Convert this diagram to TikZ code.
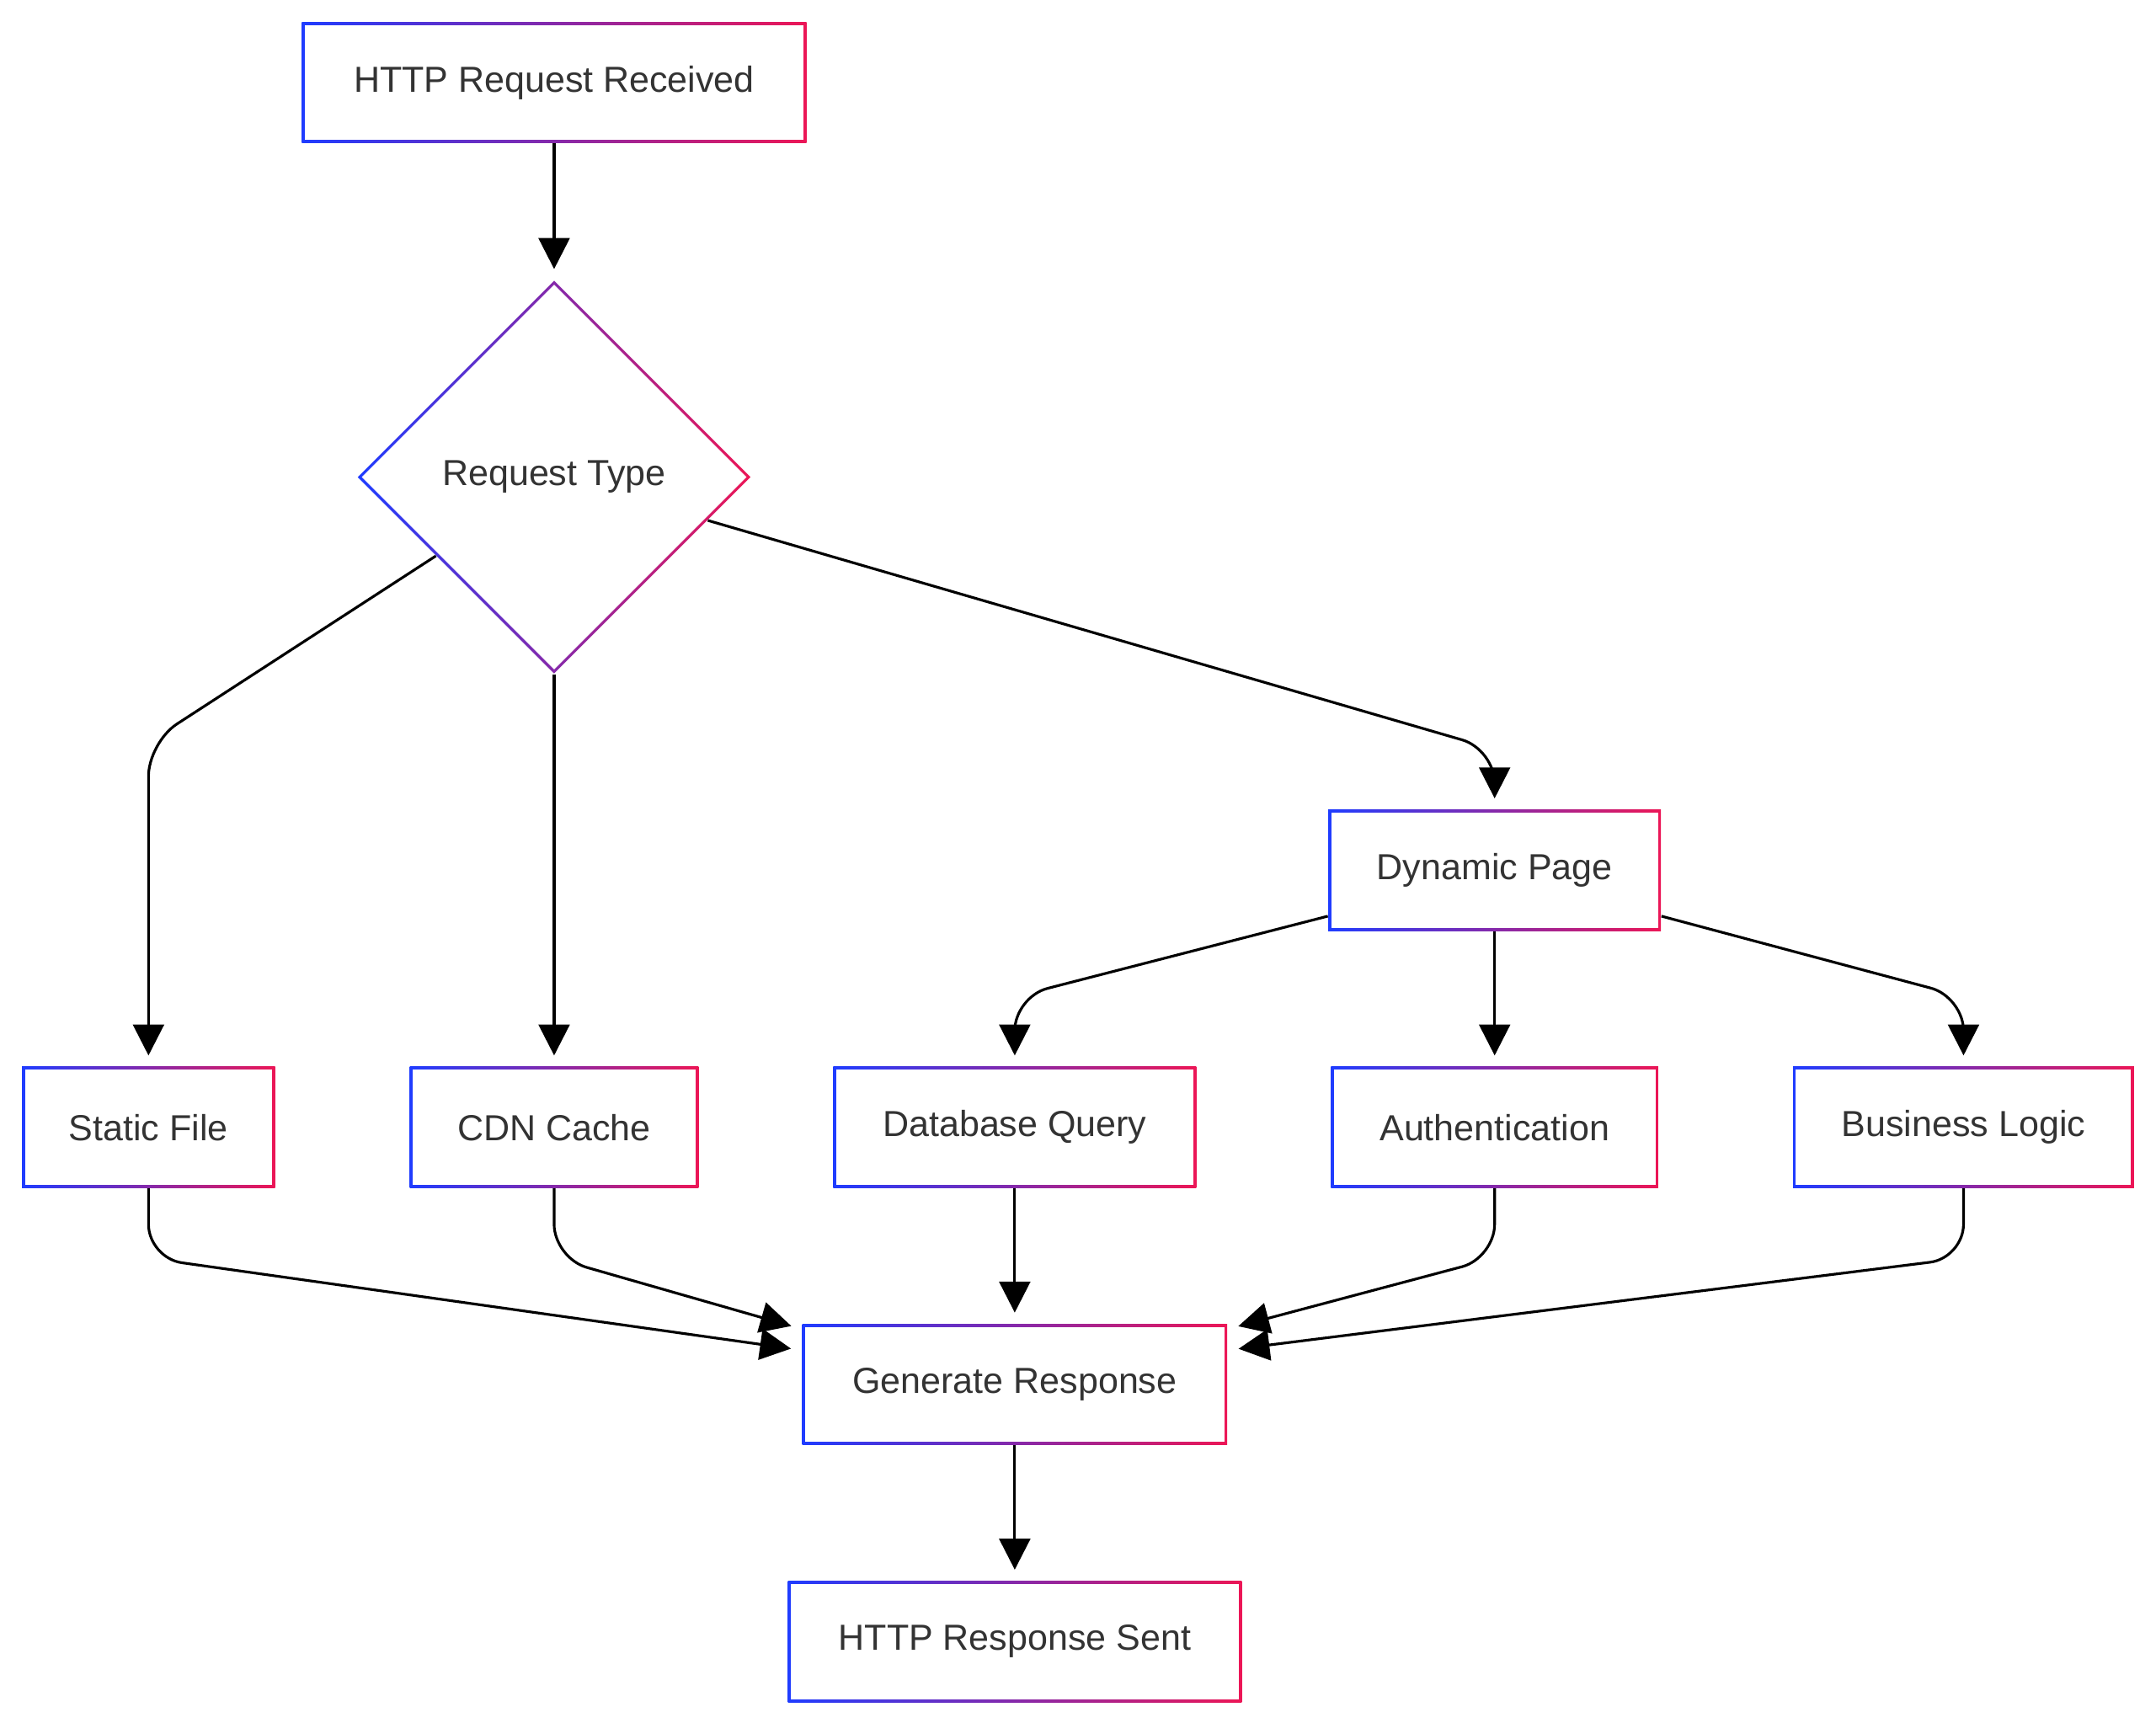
\documentclass[tikz,border=0pt]{standalone}
\usepackage{fontspec}
\setmainfont{Liberation Sans}
\usetikzlibrary{calc,positioning,shapes.geometric,arrows.meta}
\definecolor{edgeblue}{HTML}{1F3CFF}
\definecolor{edgered}{HTML}{EC1656}
\definecolor{txt}{HTML}{333333}
\begin{document}
\begin{tikzpicture}[x=0.02cm,y=-0.02cm,
    box/.style={rectangle,left color=edgeblue,right color=edgered,inner sep=0pt,minimum height=1.76cm,
      text=txt,font=\fontsize{15}{18}\selectfont,
      path picture={\fill[white] ([shift={(1.2pt,1.2pt)}]path picture bounding box.south west) rectangle ([shift={(-1.2pt,-1.2pt)}]path picture bounding box.north east);}},
    dec/.style={diamond,left color=edgeblue,right color=edgered,inner sep=0pt,minimum width=5.72cm,minimum height=5.72cm,
      text=txt,font=\fontsize{15}{18}\selectfont,
      path picture={\fill[white] ([yshift=-1.7pt]path picture bounding box.north) -- ([xshift=-1.7pt]path picture bounding box.east) -- ([yshift=1.7pt]path picture bounding box.south) -- ([xshift=1.7pt]path picture bounding box.west) -- cycle;}},
    arr/.style={-{Triangle[length=0.45cm,width=0.45cm]},line width=1.1pt,shorten >=0.16cm,rounded corners=14pt}]
    \useasboundingbox (0,0) rectangle (1568,1253);

    \node[box,minimum width=7.34cm] (req) at (403,60) {HTTP Request Received};
    \node[dec] (rt) at (403,347) {Request Type};
    \node[box,minimum width=4.84cm] (dyn) at (1087,633) {Dynamic Page};
    \node[box,minimum width=3.68cm] (sf) at (108,820) {Static File};
    \node[box,minimum width=4.2cm] (cdn) at (403,820) {CDN Cache};
    \node[box,minimum width=5.28cm] (db) at (738,820) {Database Query};
    \node[box,minimum width=4.76cm] (auth) at (1087,820) {Authentication};
    \node[box,minimum width=4.96cm] (bl) at (1428,820) {Business Logic};
    \node[box,minimum width=6.18cm] (gen) at (738,1007) {Generate Response};
    \node[box,minimum width=6.6cm] (resp) at (738,1194) {HTTP Response Sent};

    \draw[arr] (req.south) -- (rt.north);
    \draw[arr] ($(rt.west)!0.4!(rt.south)$) -- (108,540) -- (sf.north);
    \draw[arr] (rt.south) -- (cdn.north);
    \draw[arr] ($(rt.east)!0.22!(rt.south)$) -- (1087,545) -- (dyn.north);
    \draw[arr] ($(dyn.south west)+(0,-11)$) -- (738,725) -- (db.north);
    \draw[arr] (dyn.south) -- (auth.north);
    \draw[arr] ($(dyn.south east)+(0,-11)$) -- (1428,725) -- (bl.north);
    \draw[arr] (sf.south) -- (108,915) -- ($(gen.west)+(0,-25)$);
    \draw[arr] (cdn.south) -- (403,915) -- ($(gen.north west)+(0,4)$);
    \draw[arr] (db.south) -- (gen.north);
    \draw[arr] (auth.south) -- (1087,915) -- ($(gen.north east)+(0,4)$);
    \draw[arr] (bl.south) -- (1428,915) -- ($(gen.east)+(0,-25)$);
    \draw[arr] (gen.south) -- (resp.north);
\end{tikzpicture}
\end{document}
